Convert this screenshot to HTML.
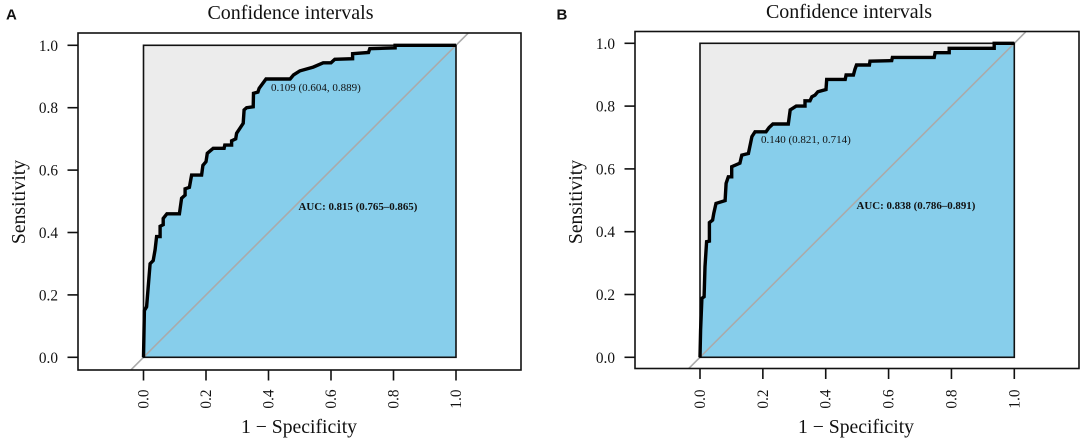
<!DOCTYPE html>
<html lang="en">
<head>
<meta charset="utf-8">
<title>ROC curves with confidence intervals</title>
<style>
html,body{margin:0;padding:0;background:#fff;width:1084px;height:441px;overflow:hidden}
svg{display:block}
text{font-family:"Liberation Serif",serif;fill:#111}
.tag{font-family:"Liberation Sans",sans-serif;font-weight:700;font-size:15px;fill:#111}
</style>
</head>
<body>
<svg id="chart" width="1084" height="441" viewBox="0 0 1084 441" xmlns="http://www.w3.org/2000/svg"></svg>
<script>
// Chart data
const tickValues = [0, 0.2, 0.4, 0.6, 0.8, 1];
const tickLabels = ['0.0', '0.2', '0.4', '0.6', '0.8', '1.0'];

const fprA = [0,.003,.01,.021,.031,.037,.042,.053,.053,.063,.063,.075,.115,.122,.133,.133,.147,.154,.186,.19,.2,.204,.223,.258,.26,.282,.282,.295,.298,.319,.322,.33,.351,.352,.366,.37,.392,.469,.48,.5,.543,.575,.6,.612,.669,.669,.72,.724,.805,.805,1];
const tprA = [0,.15,.162,.30,.31,.345,.387,.387,.42,.425,.445,.46,.46,.51,.52,.54,.545,.584,.584,.615,.627,.654,.67,.67,.68,.68,.694,.70,.718,.75,.793,.80,.803,.846,.85,.862,.892,.892,.905,.918,.93,.944,.944,.955,.957,.973,.977,.989,.992,1,1];

const fprB = [0,.002,.006,.013,.016,.021,.03,.03,.04,.044,.051,.08,.083,.09,.101,.101,.127,.133,.154,.165,.175,.21,.22,.232,.281,.287,.306,.334,.334,.35,.356,.366,.375,.401,.403,.462,.465,.488,.493,.498,.539,.541,.61,.612,.745,.748,.793,.793,.936,.936,1];
const tprB = [0,.087,.188,.193,.289,.368,.37,.429,.437,.459,.49,.499,.554,.575,.575,.607,.618,.644,.649,.703,.718,.718,.732,.743,.743,.788,.80,.80,.817,.817,.83,.835,.846,.853,.885,.885,.899,.899,.917,.931,.931,.943,.945,.955,.955,.97,.97,.984,.984,1,1];

const svg = document.getElementById('chart');
const NS = 'http://www.w3.org/2000/svg';

function mk(parent, tag, attrs, content) {
  const el = document.createElementNS(NS, tag);
  for (const k in attrs) el.setAttribute(k, attrs[k]);
  if (content !== undefined) el.textContent = content;
  parent.appendChild(el);
  return el;
}

function drawPanel(cfg) {
  const sx = v => cfg.x0 + v * (cfg.x1 - cfg.x0);
  const sy = v => cfg.y0 - v * (cfg.y0 - cfg.y1);

  const g = mk(svg, 'g', {});
  
  

  const tag = mk(g, 'text', {class: 'tag', x: cfg.tagX, y: 19.5}, cfg.tag);
  
  

  const grey = mk(g, 'rect', {x: sx(0), y: sy(1), width: sx(1) - sx(0), height: sy(0) - sy(1), fill: '#ececec'});
  
  

  const line = cfg.fpr.map((f, i) => sx(f).toFixed(1) + ',' + sy(cfg.tpr[i]).toFixed(1));

  const auc = mk(g, 'polygon', {points: line.concat([sx(1) + ',' + sy(0)]).join(' '), fill: '#87ceeb'});
  
  

  const diag = mk(g, 'line', {x1: sx(-cfg.diagOver), y1: sy(-cfg.diagOver), x2: sx(1 + cfg.diagOver), y2: sy(1 + cfg.diagOver), stroke: '#aaaaaa', 'stroke-width': 1.6});
  
  

  const inner = mk(g, 'rect', {x: sx(0), y: sy(1), width: sx(1) - sx(0), height: sy(0) - sy(1), fill: 'none', stroke: '#111', 'stroke-width': 1.6});
  
  

  const curve = mk(g, 'polyline', {points: line.join(' '), fill: 'none', stroke: '#000', 'stroke-width': 3.4, 'stroke-linejoin': 'miter'});
  
  

  const box = mk(g, 'rect', {x: cfg.bx0, y: cfg.by0, width: cfg.bx1 - cfg.bx0, height: cfg.by1 - cfg.by0, fill: 'none', stroke: '#111', 'stroke-width': 1.6});
  
  

  tickValues.forEach((v, i) => {
    const yt = mk(g, 'line', {x1: cfg.bx0 - 10.5, x2: cfg.bx0, y1: sy(v), y2: sy(v), stroke: '#111', 'stroke-width': 1.6});
    
    

    const yl = mk(g, 'text', {x: cfg.bx0 - 20, y: sy(v) + 5.5, 'text-anchor': 'end', 'font-size': 15.3}, tickLabels[i]);
    
    

    const xt = mk(g, 'line', {x1: sx(v), x2: sx(v), y1: cfg.by1, y2: cfg.by1 + 10.5, stroke: '#111', 'stroke-width': 1.6});
    
    

    const lx = sx(v) + 5;
    const xl = mk(g, 'text', {x: lx, y: 399, 'text-anchor': 'middle', 'font-size': 15.3, transform: 'rotate(-90 ' + lx + ' 399)'}, tickLabels[i]);
    
    
  });

  const title = mk(g, 'text', {x: cfg.titleX, y: cfg.titleY, 'text-anchor': 'middle', 'font-size': 20}, 'Confidence intervals');
  
  

  const xTitle = mk(g, 'text', {x: cfg.xTitleX, y: 433, 'text-anchor': 'middle', 'font-size': 19.7}, '1 − Specificity');
  
  

  const yTitle = mk(g, 'text', {x: cfg.yTitleX, y: 202, 'text-anchor': 'middle', 'font-size': 19.7, transform: 'rotate(-90 ' + cfg.yTitleX + ' 202)'}, 'Sensitivity');
  
  

  const best = mk(g, 'text', {x: cfg.bestX, y: cfg.bestY, 'font-size': 11}, cfg.bestText);
  
  

  const aucText = mk(g, 'text', {x: cfg.aucX, y: cfg.aucY, 'font-size': 10.9, 'font-weight': 700}, cfg.aucText);
  
  
}

drawPanel({
  id: 'a', tag: 'A', tagX: 6, fpr: fprA, tpr: tprA,
  x0: 143.5, x1: 456, y0: 357.3, y1: 45.3,
  bx0: 78, bx1: 521, by0: 33, by1: 370, diagOver: 0.04,
  titleX: 290.5, titleY: 19, xTitleX: 299, yTitleX: 25,
  bestX: 271, bestY: 91, bestText: '0.109 (0.604, 0.889)',
  aucX: 298.5, aucY: 210, aucText: 'AUC: 0.815 (0.765–0.865)'
});
drawPanel({
  id: 'b', tag: 'B', tagX: 556.5, fpr: fprB, tpr: tprB,
  x0: 700, x1: 1014.3, y0: 357.3, y1: 43.3,
  bx0: 635, bx1: 1079, by0: 31.5, by1: 368.5, diagOver: 0.036,
  titleX: 849, titleY: 18, xTitleX: 856, yTitleX: 582,
  bestX: 761, bestY: 143, bestText: '0.140 (0.821, 0.714)',
  aucX: 856.5, aucY: 209, aucText: 'AUC: 0.838 (0.786–0.891)'
});
</script>
</body>
</html>
